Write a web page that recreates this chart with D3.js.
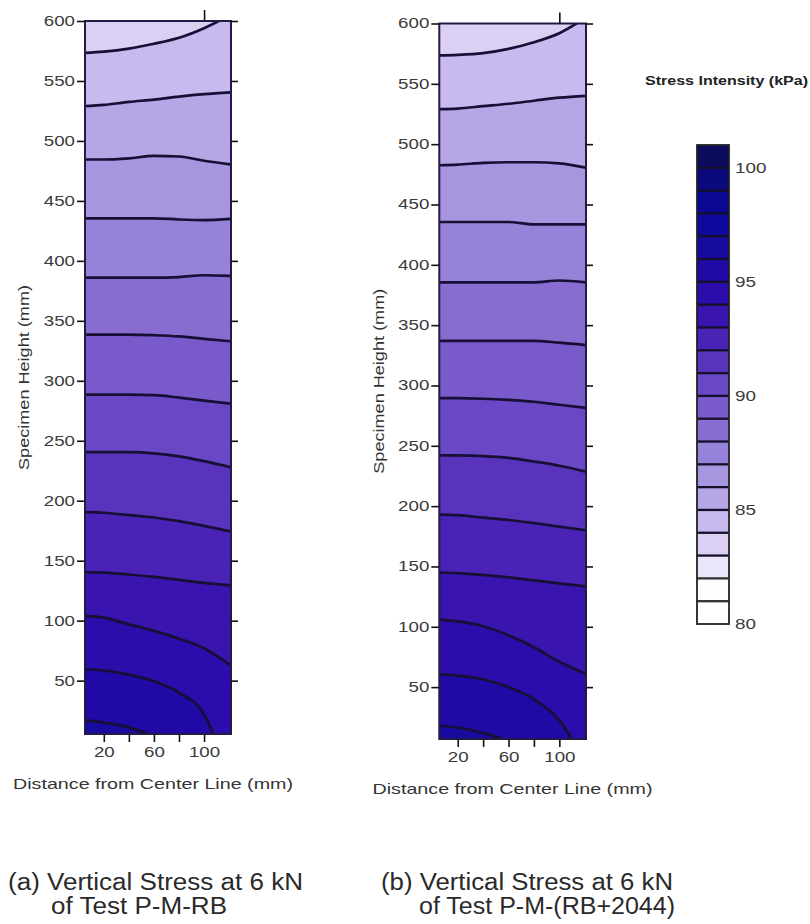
<!DOCTYPE html>
<html><head><meta charset="utf-8">
<script src="https://cdn.jsdelivr.net/npm/d3@7"></script>
<style>body{margin:0;background:#fff}svg{display:block}</style>
</head><body>
<svg id="chart" width="810" height="924"></svg>
<script>
// ---------- DATA ----------
// x positions (mm from center line) at which contour heights were read
const xSamples = [5, 20, 40, 60, 80, 100, 121];
// contour levels (kPa), one line per level
const contourLevels = [84, 85, 86, 87, 88, 89, 90, 91, 92, 93, 94, 95, 96];
// heights (mm) of each contour line at xSamples, panel (a)
const linesA = [
  [573.5, 574.5, 577, 581, 586, 594, 605],
  [529, 530, 532.5, 534.5, 537, 539, 540.5],
  [484.5, 484.5, 485.5, 487.5, 487, 483.5, 480.5],
  [435.5, 435.5, 435.5, 435.5, 434.5, 434, 435],
  [386, 386, 386, 386, 386.5, 388, 387.5],
  [338.5, 338.5, 338.5, 338, 337, 335, 333],
  [288.5, 288.5, 288.5, 288, 286, 283.5, 281],
  [240.5, 240.5, 240.5, 239.5, 237, 233, 228],
  [190.5, 190, 188, 186, 183, 179, 174.5],
  [140.5, 140, 138.5, 136.5, 134, 131.5, 129.5],
  [104, 102.5, 97, 91.5, 85, 77, 63],
  [59.5, 58.5, 55, 49.5, 40, 22, -35],
  [17, 15, 11, 3, -12, -32, -58]
];
// heights (mm) of each contour line at xSamples, panel (b)
const linesB = [
  [573.5, 574, 575.5, 579, 584.5, 592, 605],
  [529, 529.5, 531.5, 533.5, 536, 538.5, 540],
  [482.5, 483, 484.5, 485, 485, 484, 480.5],
  [435.5, 435.5, 435.5, 435.5, 433.5, 433.5, 433.5],
  [385.5, 385.5, 385.5, 385.5, 385.5, 387, 385.5],
  [337, 337, 337, 337, 337, 335.5, 333.5],
  [289.5, 289.5, 289, 288, 286.5, 284, 281.5],
  [242, 242, 241.5, 240, 237, 233.5, 228.5],
  [193, 192.5, 190.5, 188.5, 186, 183, 180],
  [145, 144.5, 143, 141, 138.5, 136, 133.5],
  [106, 104.5, 100.5, 93, 83, 71, 61],
  [60.5, 59.5, 56.5, 50, 40, 22.5, -14],
  [18, 16.5, 12, 5, -8, -28, -52]
];
// colour scale
const legendLevels = [80, 81, 82, 83, 84, 85, 86, 87, 88, 89, 90, 91, 92, 93, 94, 95, 96, 97, 98, 99, 100, 101];
const legendColors = ["#ffffff", "#fdfcff", "#ebe5fa", "#dbd0f4", "#c8b9ee", "#b6a6e6", "#a795e0",
  "#9782d9", "#886dd1", "#795aca", "#6a47c4", "#5a33bc", "#4a22b6", "#3a14ae", "#2c0caa",
  "#1f0aa6", "#170a9e", "#0f089c", "#0a0892", "#0a0a7c", "#0c0c5c"];
const legendTicks = [80, 85, 90, 95, 100];
const yTicks = [50, 100, 150, 200, 250, 300, 350, 400, 450, 500, 550, 600];
const xTicks = [20, 40, 60, 80, 100];
const xTickLabels = [20, 60, 100];
const topTicks = [100];

// ---------- DRAW ----------
const svg = d3.select("#chart");
const FONT = "'Liberation Sans', Arial, Helvetica, sans-serif";
svg.append("rect").attr("width", 810).attr("height", 924).attr("fill", "#fff");

const colorOf = lvl => legendColors[legendLevels.indexOf(lvl)];

function stretch(sel, perChar) {
  sel.attr("textLength", function () { return this.textContent.length * perChar; })
     .attr("lengthAdjust", "spacingAndGlyphs");
}

function panel(id, lines, box, titleX, titleBase, yTitleX, cap1, cap2, capX1, capW1, capX2, capW2) {
  const x = d3.scaleLinear().domain(box.xd).range([box.l, box.r]);
  const y = d3.scaleLinear().domain(box.yd).range([box.b, box.t]);
  const g = svg.append("g");
  g.append("clipPath").attr("id", "clip" + id)
    .append("rect").attr("x", box.l).attr("y", box.t).attr("width", box.r - box.l).attr("height", box.b - box.t);
  const pg = g.append("g").attr("clip-path", `url(#clip${id})`);
  const curve = d3.curveMonotoneX;
  // bands: painted top to bottom, each from its upper contour down
  const bands = [null].concat(lines);
  bands.forEach((ln, k) => {
    const lvl = contourLevels[0] - 1 + k;
    const area = d3.area().curve(curve)
      .x((d, i) => x(xSamples[i]))
      .y0(() => y(-300))
      .y1((d, i) => ln ? y(ln[i]) : y(800));
    pg.append("path").datum(xSamples).attr("d", area).attr("fill", colorOf(lvl));
  });
  const line = d3.line().curve(curve).x((d, i) => x(xSamples[i])).y(d => y(d));
  lines.forEach(ln => {
    pg.append("path").datum(ln).attr("d", line).attr("fill", "none")
      .attr("stroke", "#170f35").attr("stroke-width", 2.7);
  });
  g.append("rect").attr("x", box.l).attr("y", box.t).attr("width", box.r - box.l).attr("height", box.b - box.t)
    .attr("fill", "none").attr("stroke", "#231a45").attr("stroke-width", 2);

  // axes
  const yAx = g.append("g").attr("transform", `translate(${box.l},0)`)
    .call(d3.axisLeft(y).tickValues(yTicks).tickSize(8).tickPadding(2));
  const yAxR = g.append("g").attr("transform", `translate(${box.r},0)`)
    .call(d3.axisRight(y).tickValues(yTicks).tickSize(7).tickFormat(""));
  const xAx = g.append("g").attr("transform", `translate(0,${box.b})`)
    .call(d3.axisBottom(x).tickValues(xTicks).tickSize(8).tickPadding(4)
      .tickFormat(d => xTickLabels.includes(d) ? String(d) : ""));
  const xAxT = g.append("g").attr("transform", `translate(0,${box.t})`)
    .call(d3.axisTop(x).tickValues(topTicks).tickSize(11).tickFormat(""));
  [yAx, yAxR, xAx, xAxT].forEach(a => {
    a.select(".domain").remove();
    a.selectAll(".tick line").attr("stroke", "#111").attr("stroke-width", 1.6);
    a.selectAll(".tick text").attr("fill", "#3a3a3a").attr("font-family", FONT);
  });
  yAx.selectAll(".tick text").attr("font-size", 14).call(stretch, 10.4);
  xAx.selectAll(".tick text").attr("font-size", 15.5).call(stretch, 10.4);

  // titles
  g.append("text").attr("x", titleX).attr("y", titleBase).attr("text-anchor", "middle")
    .attr("font-family", FONT).attr("font-size", 15).attr("fill", "#333")
    .text("Distance from Center Line (mm)").attr("textLength", 280).attr("lengthAdjust", "spacingAndGlyphs");
  g.append("text").attr("transform", `translate(${yTitleX},${(box.t + box.b) / 2}) rotate(-90)`)
    .attr("text-anchor", "middle").attr("font-family", FONT).attr("font-size", 15).attr("fill", "#333")
    .text("Specimen Height (mm)").attr("textLength", 185).attr("lengthAdjust", "spacingAndGlyphs");
  // caption
  g.append("text").attr("x", capX1).attr("y", 890).attr("font-family", FONT).attr("font-size", 23)
    .attr("fill", "#2a2a2a").text(cap1).attr("textLength", capW1).attr("lengthAdjust", "spacingAndGlyphs");
  g.append("text").attr("x", capX2).attr("y", 914).attr("font-family", FONT).attr("font-size", 23)
    .attr("fill", "#2a2a2a").text(cap2).attr("textLength", capW2).attr("lengthAdjust", "spacingAndGlyphs");
}

panel("A", linesA, {l: 85, r: 231, t: 21, b: 734, xd: [5, 121.5], yd: [5.5, 600]},
  153, 789, 28.5, "(a) Vertical Stress at 6 kN", "of Test P-M-RB", 8, 295, 51, 176);
panel("B", linesB, {l: 439.3, r: 586, t: 23.5, b: 739, xd: [5.5, 121], yd: [7, 600]},
  512.5, 794, 383.5, "(b) Vertical Stress at 6 kN", "of Test P-M-(RB+2044)", 381, 292, 419, 256);

// ---------- COLOUR BAR ----------
const cb = {l: 697, r: 729, t: 145, b: 624};
const cy = d3.scaleLinear().domain([80, 101]).range([cb.b, cb.t]);
const cg = svg.append("g");
legendColors.forEach((c, i) => {
  cg.append("rect").attr("x", cb.l).attr("width", cb.r - cb.l)
    .attr("y", cy(legendLevels[i + 1])).attr("height", cy(legendLevels[i]) - cy(legendLevels[i + 1]))
    .attr("fill", c);
});
legendLevels.slice(1, -1).forEach(v => {
  cg.append("line").attr("x1", cb.l).attr("x2", cb.r).attr("y1", cy(v)).attr("y2", cy(v))
    .attr("stroke", v <= 82 ? "#333" : "#14102a").attr("stroke-width", 2.3);
});
cg.append("rect").attr("x", cb.l).attr("y", cb.t).attr("width", cb.r - cb.l).attr("height", cb.b - cb.t)
  .attr("fill", "none").attr("stroke", "#222").attr("stroke-width", 1.8);
const cax = cg.append("g").attr("transform", `translate(${cb.r},0)`)
  .call(d3.axisRight(cy).tickValues(legendTicks).tickSize(0).tickPadding(6));
cax.select(".domain").remove();
cax.selectAll(".tick text").attr("font-family", FONT).attr("font-size", 14).attr("fill", "#3a3a3a")
  .call(stretch, 10.5);
svg.append("text").attr("x", 645).attr("y", 85).attr("font-family", FONT).attr("font-weight", "bold")
  .attr("font-size", 12.5).attr("fill", "#222").text("Stress Intensity (kPa)")
  .attr("textLength", 163).attr("lengthAdjust", "spacingAndGlyphs");
</script>
</body></html>
